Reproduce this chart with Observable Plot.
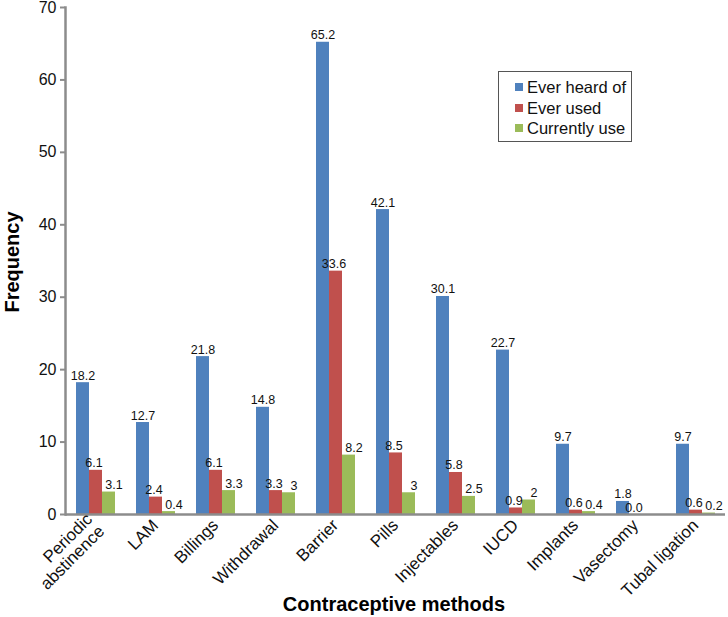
<!DOCTYPE html>
<html>
<head>
<meta charset="utf-8">
<script src="https://cdn.jsdelivr.net/npm/d3@7"></script>
<script src="https://cdn.jsdelivr.net/npm/@observablehq/plot@0.6"></script>
<style>
  body { margin: 0; background: #fff; font-family: "Liberation Sans", Arial, sans-serif; }
  #wrap { position: relative; width: 728px; height: 617px; }
  .title { position: absolute; font-weight: bold; font-size: 20px; color: #000; white-space: nowrap; }
  #legend { position: absolute; left: 498px; top: 71px; width: 134px; height: 71px; border: 1px solid #555; box-sizing: border-box; background: #fff; font-size: 16.5px; }
  .li { position: absolute; left: 0; height: 20px; line-height: 20px; white-space: nowrap; color: #111; }
  .sw { position: absolute; left: 16px; top: 6px; width: 8px; height: 8px; }
  .lt { position: absolute; left: 28px; top: 0; }
</style>
</head>
<body>
<div id="wrap"></div>
<script>
const categories = ["Periodic\nabstinence", "LAM", "Billings", "Withdrawal", "Barrier", "Pills", "Injectables", "IUCD", "Implants", "Vasectomy", "Tubal ligation"];
const series = ["Ever heard of", "Ever used", "Currently use"];
const colors = ["#4F81BD", "#C0504D", "#9BBB59"];
const everHeard = [18.2, 12.7, 21.8, 14.8, 65.2, 42.1, 30.1, 22.7, 9.7, 1.8, 9.7];
const everUsed = [6.1, 2.4, 6.1, 3.3, 33.6, 8.5, 5.8, 0.9, 0.6, 0.0, 0.6];
const currentlyUse = [3.1, 0.4, 3.3, 3, 8.2, 3, 2.5, 2, 0.4, null, 0.2];
const yTicks = [0, 10, 20, 30, 40, 50, 60, 70];

const columns = [everHeard, everUsed, currentlyUse];
const data = [];
categories.forEach((c, i) => {
  series.forEach((s, j) => {
    const v = columns[j][i];
    if (v !== null) data.push({cat: c, series: s, value: v, label: v === 0 ? "0.0" : String(v)});
  });
});

const labelDx = [0, -2, 5];
const labelMarks = series.map((s, j) =>
  Plot.text(data.filter(d => d.series === s), {
    fx: "cat", x: "series", y: "value", text: "label",
    lineAnchor: "bottom", dy: -3, dx: labelDx[j], fontSize: 12.5, fill: "#111"
  })
);

const chart = Plot.plot({
  width: 728,
  height: 617,
  marginLeft: 62,
  marginRight: 1,
  marginTop: 7,
  marginBottom: 103,
  style: {fontFamily: "'Liberation Sans', Arial, sans-serif", fontSize: "16px", color: "#111"},
  fx: {domain: categories, padding: 0, label: null},
  x: {domain: series, paddingInner: 0, paddingOuter: 0.71, axis: null},
  y: {domain: [0, 70], label: null},
  color: {domain: series, range: colors},
  marks: [
    Plot.barY(data, {fx: "cat", x: "series", y: "value", fill: "series"}),
    ...labelMarks,
    Plot.ruleY([0], {stroke: "#8c8c8c", strokeWidth: 2.5}),
    Plot.frame({anchor: "left", facetAnchor: "left", stroke: "#8c8c8c", strokeWidth: 2.5}),
    Plot.axisY({ticks: yTicks, tickSize: 5, tickPadding: 4, stroke: "#8c8c8c", strokeWidth: 2, label: null, fontSize: 16, fill: "#111"}),
    Plot.axisFx({anchor: "bottom", tickRotate: -45, tickSize: 0, tickPadding: 8, label: null, fontSize: 17, fill: "#111"})
  ]
});

const wrap = document.getElementById("wrap");
wrap.appendChild(chart);

const xt = document.createElement("div");
xt.className = "title";
xt.textContent = "Contraceptive methods";
xt.style.left = "394px";
xt.style.top = "593px";
xt.style.transform = "translateX(-50%)";
wrap.appendChild(xt);

const yt = document.createElement("div");
yt.className = "title";
yt.textContent = "Frequency";
yt.style.left = "12px";
yt.style.top = "262px";
yt.style.transform = "translate(-50%, -50%) rotate(-90deg)";
wrap.appendChild(yt);

const legend = document.createElement("div");
legend.id = "legend";
series.forEach((s, j) => {
  const li = document.createElement("div");
  li.className = "li";
  li.style.top = (5 + j * 20.5) + "px";
  const sw = document.createElement("span");
  sw.className = "sw";
  sw.style.background = colors[j];
  const lt = document.createElement("span");
  lt.className = "lt";
  lt.textContent = s;
  li.appendChild(sw);
  li.appendChild(lt);
  legend.appendChild(li);
});
wrap.appendChild(legend);
</script>
</body>
</html>
